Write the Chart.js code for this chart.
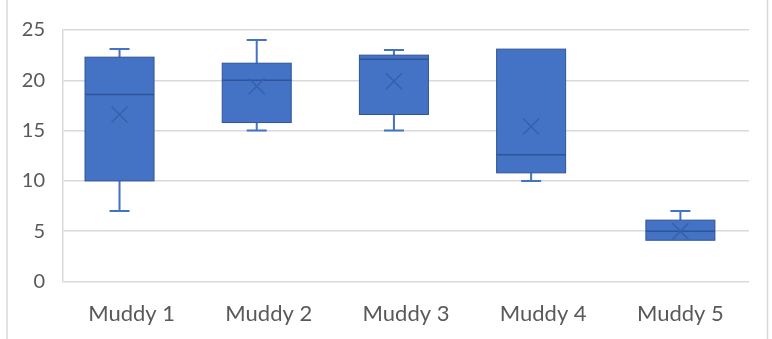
<!DOCTYPE html>
<html>
<head>
<meta charset="utf-8">
<script src="https://cdn.jsdelivr.net/npm/chart.js@4/dist/chart.umd.min.js"></script>
<style>
  html, body { margin: 0; padding: 0; background: #ffffff; }
  #wrap { width: 772px; height: 339px; position: relative; }
</style>
</head>
<body>
<div id="wrap"><canvas id="chart" width="772" height="339"></canvas></div>
<script>
// Five-number summaries (plus mean) for each sampling site
const categories = ['Muddy 1', 'Muddy 2', 'Muddy 3', 'Muddy 4', 'Muddy 5'];
const minimums   = [7.0, 15.0, 15.0, 10.0, 4.1];
const quartile1  = [10.0, 15.8, 16.6, 10.8, 4.1];
const medians    = [18.6, 20.0, 22.1, 12.6, 5.0];
const quartile3  = [22.3, 21.7, 22.5, 23.1, 6.1];
const maximums   = [23.1, 24.0, 23.0, 23.1, 7.0];
const means      = [16.6, 19.4, 19.9, 15.4, 5.0];
const yTicks     = [0, 5, 10, 15, 20, 25];

// Box appearance, in fractions of one category slot
const boxStyle = {
  width: 0.503,
  shift: [-0.088, -0.088, -0.088, -0.088, 0],
  capWidth: 20,
  fill: '#4472C4',
  edge: '#2F5597',
  whisker: '#4472C4',
  median: '#2F5597',
  mean: '#3660AC',
  meanSize: 8
};

const boxPlotPlugin = {
  id: 'boxPlot',
  beforeDraw(chart) {
    // thin frame on the left and right edges of the canvas
    const c = chart.ctx;
    c.save();
    c.strokeStyle = '#d9d9d9';
    c.lineWidth = 1.5;
    c.beginPath();
    c.moveTo(7, 0); c.lineTo(7, chart.height);
    c.moveTo(767.5, 0); c.lineTo(767.5, chart.height);
    c.stroke();
    c.restore();
  },
  afterDatasetsDraw(chart) {
    const c = chart.ctx;
    const xs = chart.scales.x, ys = chart.scales.y;
    const slot = xs.getPixelForValue(1) - xs.getPixelForValue(0);
    c.save();
    categories.forEach((cat, i) => {
      const cx = xs.getPixelForValue(i + boxStyle.shift[i]);
      const half = slot * boxStyle.width / 2;
      const yMin = ys.getPixelForValue(minimums[i]);
      const yQ1 = ys.getPixelForValue(quartile1[i]);
      const yMed = ys.getPixelForValue(medians[i]);
      const yQ3 = ys.getPixelForValue(quartile3[i]);
      const yMax = ys.getPixelForValue(maximums[i]);
      const yMean = ys.getPixelForValue(means[i]);

      // whiskers and caps
      c.strokeStyle = boxStyle.whisker;
      c.lineWidth = 2;
      c.beginPath();
      if (maximums[i] > quartile3[i]) {
        c.moveTo(cx, yQ3); c.lineTo(cx, yMax);
        c.moveTo(cx - boxStyle.capWidth / 2, yMax); c.lineTo(cx + boxStyle.capWidth / 2, yMax);
      }
      if (minimums[i] < quartile1[i]) {
        c.moveTo(cx, yQ1); c.lineTo(cx, yMin);
        c.moveTo(cx - boxStyle.capWidth / 2, yMin); c.lineTo(cx + boxStyle.capWidth / 2, yMin);
      }
      c.stroke();

      // interquartile box
      c.fillStyle = boxStyle.fill;
      c.fillRect(cx - half, yQ3, half * 2, yQ1 - yQ3);
      c.strokeStyle = boxStyle.edge;
      c.lineWidth = 1;
      c.strokeRect(cx - half, yQ3, half * 2, yQ1 - yQ3);

      // median
      c.strokeStyle = boxStyle.median;
      c.lineWidth = 1.5;
      c.beginPath();
      c.moveTo(cx - half, yMed); c.lineTo(cx + half, yMed);
      c.stroke();

      // mean marker
      const m = boxStyle.meanSize;
      c.strokeStyle = boxStyle.mean;
      c.lineWidth = 1.5;
      c.beginPath();
      c.moveTo(cx - m, yMean - m); c.lineTo(cx + m, yMean + m);
      c.moveTo(cx + m, yMean - m); c.lineTo(cx - m, yMean + m);
      c.stroke();
    });
    c.restore();
  }
};

new Chart(document.getElementById('chart'), {
  type: 'bar',
  data: {
    labels: categories,
    datasets: [{
      label: 'Spread',
      data: categories.map((c, i) => [quartile1[i], quartile3[i]]),
      backgroundColor: 'rgba(0,0,0,0)',
      borderWidth: 0
    }]
  },
  options: {
    responsive: false,
    animation: false,
    layout: { padding: { top: 28, right: 23, bottom: 0, left: 0 } },
    plugins: {
      legend: { display: false },
      tooltip: { enabled: false }
    },
    scales: {
      x: {
        grid: { display: false, drawTicks: false },
        border: { display: false },
        ticks: {
          color: '#595959',
          padding: 19,
          font: { family: 'Lato', size: 22 },
          maxRotation: 0
        },
        afterFit(scale) { scale.height = 57.5; }
      },
      y: {
        min: 0,
        max: 25,
        afterBuildTicks(scale) { scale.ticks = yTicks.map(v => ({ value: v })); },
        grid: { color: '#d9d9d9', lineWidth: 1.5, drawTicks: false },
        border: { display: true, color: '#d9d9d9', width: 1.5 },
        ticks: {
          color: '#595959',
          padding: 18,
          font: { family: 'Lato', size: 20 }
        },
        afterFit(scale) { scale.width = 63; }
      }
    }
  },
  plugins: [boxPlotPlugin]
});
</script>
</body>
</html>
